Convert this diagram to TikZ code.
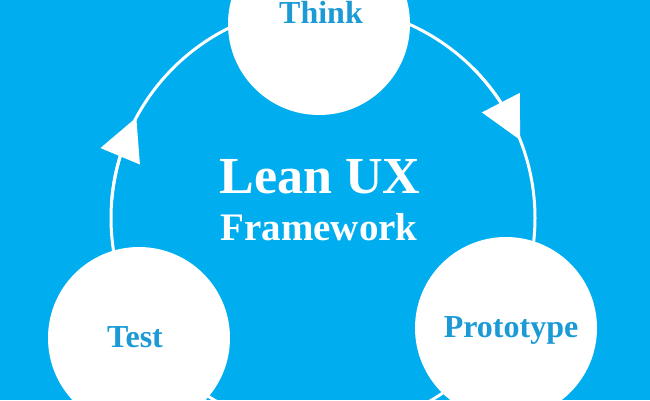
\documentclass[tikz,border=0pt]{standalone}
\usepackage{fontspec}
\setmainfont{Liberation Serif}
\usepackage{tikz}
\usetikzlibrary{arrows.meta,bending}
\definecolor{leanbg}{HTML}{00AEEF}
\definecolor{leantext}{HTML}{1B9AD6}
\tikzset{
  stage/.style={circle, fill=white, draw=none, minimum size=182pt, inner sep=0pt},
  stagetext/.style={text=leantext, font=\fontsize{32}{36}\selectfont\bfseries, inner sep=0pt},
  ring/.style={draw=white, line width=3pt},
  ringarrow/.style={ring, -{Triangle[length=42pt, width=42pt, fill=white]}}
}

\begin{document}
\begin{tikzpicture}[x=1pt, y=-1pt]
\fill[leanbg] (0,0) rectangle (650,400);
\useasboundingbox (0,0) rectangle (650,400);

\coordinate (hub) at (323,218);
\draw[ring] (hub) circle[radius=212pt];
\draw[ringarrow] ([shift={(45:212pt)}]hub) arc[start angle=45, end angle=21.6, radius=212pt];
\draw[ringarrow] ([shift={(175:212pt)}]hub) arc[start angle=175, end angle=151.7, radius=212pt];

\node[stage] (think) at (319,24) {};
\node[stage] (test) at (139,338) {};
\node[stage] (proto) at (506,328) {};

\node[stagetext, anchor=base] (thinkl) at (321,23) {Think};
\node[stagetext, anchor=base] (testl) at (135,347) {Test};
\node[stagetext, anchor=base] (protol) at (511,337) {Prototype};

\node[text=white, font=\fontsize{52}{56}\selectfont\bfseries, anchor=base, inner sep=0pt] (title) at (320,193) {Lean UX};
\node[text=white, font=\fontsize{39}{44}\selectfont\bfseries, anchor=base, inner sep=0pt] (subtitle) at (319,240) {Framework};
\end{tikzpicture}
\end{document}
